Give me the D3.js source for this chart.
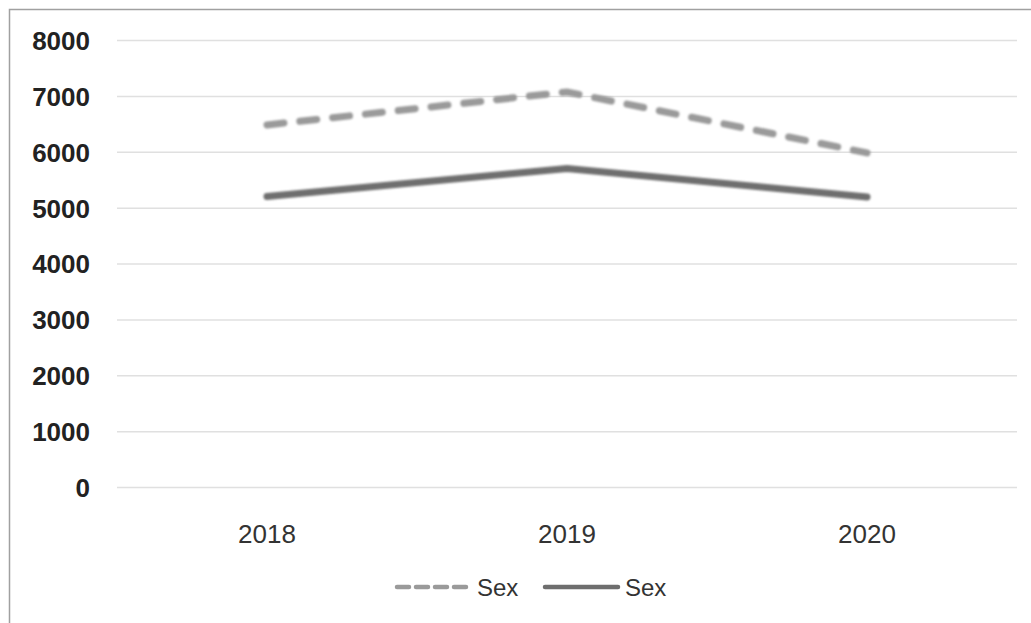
<!DOCTYPE html>
<html><head><meta charset="utf-8">
<script src="https://cdn.jsdelivr.net/npm/d3@7"></script>
<style>body{margin:0;background:#fff}svg{display:block}</style>
</head><body>
<svg id="c" width="1031" height="623"></svg>
<script>
const categories = ["2018", "2019", "2020"];
const seriesNames = ["Sex", "Sex"];
const dashedValues = [6480, 7070, 5980];
const solidValues = [5200, 5700, 5190];
const yTicks = [0, 1000, 2000, 3000, 4000, 5000, 6000, 7000, 8000];

const svg = d3.select("#c");
const plotLeft = 117, plotRight = 1017, plotTop = 40, plotBottom = 487;

svg.append("defs").append("filter").attr("id", "blur").attr("x", "-5%").attr("y", "-50%").attr("width", "110%").attr("height", "200%")
  .append("feGaussianBlur").attr("stdDeviation", 0.8);

svg.append("rect").attr("x", 9.5).attr("y", 9.5).attr("width", 1040).attr("height", 640)
  .attr("fill", "none").attr("stroke", "#a0a0a0").attr("stroke-width", 1.5);

const x = d3.scaleBand().domain(categories).range([plotLeft, plotRight]);
const y = d3.scaleLinear().domain([0, 8000]).range([plotBottom, plotTop]);

const yAxis = d3.axisLeft(y).tickValues(yTicks).tickSize(-(plotRight - plotLeft)).tickPadding(27).tickFormat(d3.format("d"));
const gy = svg.append("g").attr("transform", `translate(${plotLeft},0)`).call(yAxis);
gy.select(".domain").remove();
gy.selectAll(".tick line").attr("stroke", "#e0e0e0").attr("stroke-width", 1.5);
gy.selectAll(".tick text").attr("font-family", "Liberation Sans, Arial, sans-serif").attr("font-size", 26)
  .attr("fill", "#222").attr("font-weight", "bold").attr("dy", "0.36em");

const xAxis = d3.axisBottom(x).tickSize(0).tickPadding(38);
const gx = svg.append("g").attr("transform", `translate(0,${plotBottom})`).call(xAxis);
gx.select(".domain").remove();
gx.selectAll(".tick text").attr("font-family", "Liberation Sans, Arial, sans-serif").attr("font-size", 26).attr("fill", "#333");

const line = d3.line().x((d, i) => x(categories[i]) + x.bandwidth() / 2).y(d => y(d));

svg.append("path").datum(dashedValues).attr("d", line).attr("fill", "none")
  .attr("stroke", "#9a9a9a").attr("stroke-width", 7).attr("stroke-linecap", "round")
  .attr("stroke-dasharray", "17,16").attr("filter", "url(#blur)");
svg.append("path").datum(solidValues).attr("d", line).attr("fill", "none")
  .attr("stroke", "#6e6e6e").attr("stroke-width", 7).attr("stroke-linecap", "round").attr("filter", "url(#blur)");

// legend
const legend = svg.append("g");
const items = [
  {name: seriesNames[0], color: "#9a9a9a", dash: "12,7", x0: 397},
  {name: seriesNames[1], color: "#6e6e6e", dash: null, x0: 545}
];
items.forEach(it => {
  legend.append("line").attr("x1", it.x0).attr("x2", it.x0 + 73).attr("y1", 587).attr("y2", 587)
    .attr("stroke", it.color).attr("stroke-width", 4.5).attr("stroke-linecap", "round")
    .attr("stroke-dasharray", it.dash);
  legend.append("text").attr("x", it.x0 + 80).attr("y", 596).text(it.name)
    .attr("font-family", "Liberation Sans Narrow, Liberation Sans, sans-serif").attr("font-size", 24).attr("fill", "#333");
});
</script>
</body></html>
